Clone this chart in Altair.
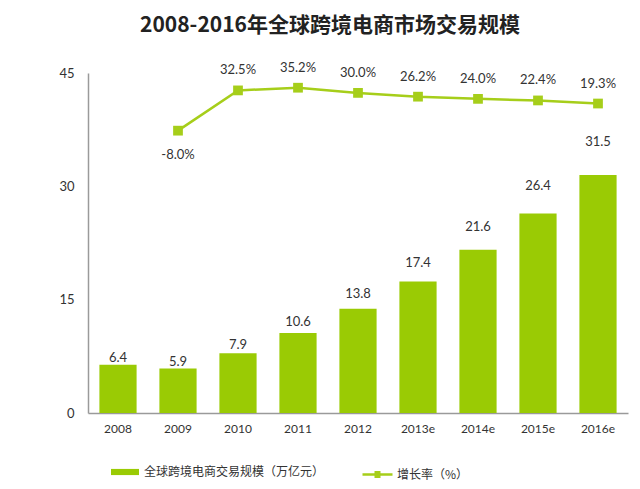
import altair as alt
import pandas as pd

years = ["2008", "2009", "2010", "2011", "2012", "2013e", "2014e", "2015e", "2016e"]
sizes = [6.4, 5.9, 7.9, 10.6, 13.8, 17.4, 21.6, 26.4, 31.5]
rates = [None, -8.0, 32.5, 35.2, 30.0, 26.2, 24.0, 22.4, 19.3]
bar_series = "全球跨境电商交易规模（万亿元）"
line_series = "增长率（%）"
title_text = "2008-2016年全球跨境电商市场交易规模"

df = pd.DataFrame({"year": years, "size": sizes, "rate": rates})
df["bar_series"] = bar_series
df["line_series"] = line_series
df["size_label"] = [f"{v:.1f}" for v in sizes]
df["rate_label"] = ["" if r is None else f"{r:.1f}%" for r in rates]

FONT = "Lato, Noto Sans CJK SC, sans-serif"
CJK = "Noto Sans CJK SC"
BAR = "#9ACB04"
LINE = "#A6CE1A"
TXT = "#333333"
AXC = "#9a9a9a"

x = alt.X(
    "year:N", sort=years, title=None,
    scale=alt.Scale(paddingInner=0.38, paddingOuter=0.19),
    axis=alt.Axis(labelAngle=0, ticks=False, domainColor=AXC, domainWidth=1.5,
                  labelColor=TXT, labelFontSize=12, labelPadding=10, labelFont=FONT),
)

bars = alt.Chart(df).mark_bar().encode(
    x=x,
    y=alt.Y("size:Q", title=None, scale=alt.Scale(domain=[0, 45], nice=False),
            axis=alt.Axis(values=[0, 15, 30, 45], grid=False, ticks=False, domainColor=AXC,
                          domainWidth=1.5, labelColor=TXT, labelFontSize=13, labelFont=FONT,
                          labelPadding=14)),
    color=alt.Color("bar_series:N", scale=alt.Scale(range=[BAR]),
                    legend=alt.Legend(title=None, orient="none", legendX=23, legendY=385,
                                      symbolType="M-1,-0.22H1V0.22H-1Z", symbolSize=784,
                                      symbolStrokeWidth=0, labelFontSize=12, labelFont=CJK,
                                      labelColor=TXT, labelOffset=5, padding=0, labelLimit=400)),
)

bar_text = alt.Chart(df).mark_text(font=FONT, fontSize=13, color=TXT, baseline="middle").encode(
    x=x,
    y=alt.Y("size:Q", scale=alt.Scale(domain=[0, 39.5], nice=False), axis=None),
    text="size_label:N",
)

rate_scale = alt.Scale(domain=[-292, 50], nice=False, zero=False)
valid = "isValid(datum.rate)"

line = alt.Chart(df).transform_filter(valid).mark_line(strokeWidth=2.5).encode(
    x=x,
    y=alt.Y("rate:Q", scale=rate_scale, axis=None),
    stroke=alt.Stroke("line_series:N", scale=alt.Scale(range=[LINE]),
                      legend=alt.Legend(title=None, orient="none", legendX=273, legendY=385,
                                        symbolType="M-1,0H1M-0.2,-0.15H0.2M-0.2,-0.05H0.2M-0.2,0.05H0.2M-0.2,0.15H0.2",
                                        symbolSize=900, symbolStrokeWidth=2.5,
                                        symbolFillColor=LINE, labelFontSize=12, labelFont=CJK,
                                        labelColor=TXT, labelOffset=3, padding=0, labelLimit=300)),
)

pts = alt.Chart(df).transform_filter(valid).mark_point(shape="square", filled=True, size=95, opacity=1, color=LINE).encode(
    x=x,
    y=alt.Y("rate:Q", scale=rate_scale, axis=None),
)

rate_pos = alt.Chart(df).transform_filter(valid + " && datum.rate >= 0").mark_text(
    font=FONT, fontSize=13, color=TXT, dy=-20, baseline="middle").encode(
    x=x, y=alt.Y("rate:Q", scale=rate_scale, axis=None), text="rate_label:N")

rate_neg = alt.Chart(df).transform_filter(valid + " && datum.rate < 0").mark_text(
    font=FONT, fontSize=13, color=TXT, dy=24, baseline="middle").encode(
    x=x, y=alt.Y("rate:Q", scale=rate_scale, axis=None), text="rate_label:N")

chart = alt.layer(bars, bar_text, line, pts, rate_pos, rate_neg).resolve_scale(
    y="independent"
).properties(
    width=540, height=340,
    title=alt.TitleParams(title_text, fontSize=21, font=CJK, fontWeight="bold", color="#222222",
                          anchor="middle", dx=-28, offset=26),
    autosize=alt.AutoSizeParams(type="none"),
    padding={"left": 80, "top": 65, "right": 4, "bottom": 68},
).configure_view(stroke=None)

chart.save("out.html", embed_options={"renderer": "svg", "actions": False})
